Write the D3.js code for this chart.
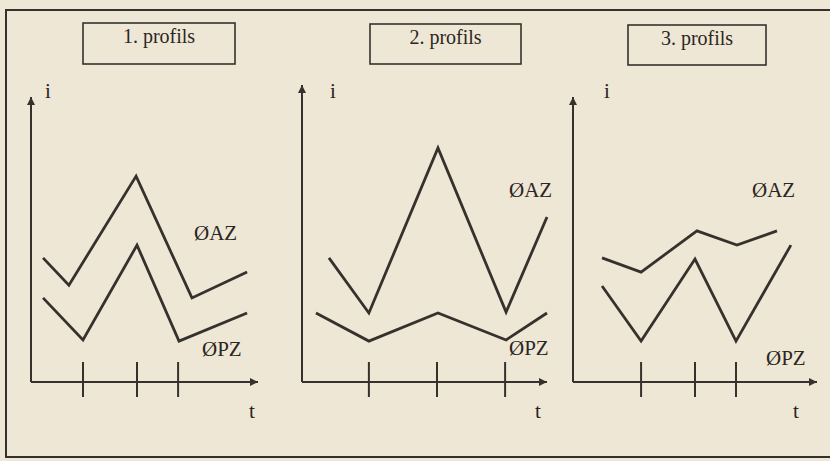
<!DOCTYPE html>
<html>
<head>
<meta charset="UTF-8">
<title>profils</title>
<script src="https://d3js.org/d3.v7.min.js"></script>
<style>
  * { margin: 0; padding: 0; box-sizing: border-box; }
  body { background: #efe7d5; }
  svg { display: block; }
  text { font-family: "Liberation Serif", "DejaVu Serif", serif; fill: #2a2623; }
</style>
</head>
<body>
<div id="chart"></div>
<script>
// time in % of the t axis, current in % of the i axis
const titles = ["1. profils", "2. profils", "3. profils"];
const seriesNames = ["ØAZ", "ØPZ"];

const azT = [[5.3, 16.7, 46.3, 70.9, 95.2], [11.0, 27.3, 55.5, 83.3, 100], [11.9, 27.9, 50.8, 67.2, 83.6]];
const azI = [[42.8, 33.4, 71.0, 29.0, 37.9], [42.8, 23.8, 80.7, 24.1, 56.9], [42.8, 37.9, 52.1, 47.2, 52.1]];
const pzT = [[5.3, 22.9, 46.7, 65.2, 95.2], [5.7, 27.3, 55.5, 83.3, 100], [11.9, 27.9, 50.0, 66.8, 89.3]];
const pzI = [[29.0, 14.5, 47.2, 14.1, 23.8], [23.8, 14.1, 23.8, 14.5, 23.8], [33.1, 14.1, 42.4, 14.1, 47.2]];
const tickT = [[22.9, 46.7, 64.8], [27.3, 55.1, 82.9], [27.9, 50.0, 66.8]];

const W = 830, H = 461, ink = "#36312d";

// layout per panel
const panels = [
  {x0: 31,  x1: 258, tip: 97, box: [83, 23, 152, 41],  az: [194, 240], pz: [202, 356], iX: 48,  tX: 252},
  {x0: 302, x1: 547, tip: 85, box: [370, 24, 151, 40], az: [509, 197], pz: [509, 355], iX: 333, tX: 538},
  {x0: 573, x1: 817, tip: 97, box: [628, 25, 138, 40], az: [752, 197], pz: [766, 365], iX: 607, tX: 796}
];

const y = d3.scaleLinear().domain([0, 100]).range([382, 92]);

const svg = d3.select("#chart").append("svg")
  .attr("width", W).attr("height", H);

svg.append("rect").attr("width", W).attr("height", H).attr("fill", "#efe7d5");

// frame
svg.append("path")
  .attr("d", `M${W},10 H6 V457 H${W}`)
  .attr("fill", "none").attr("stroke", ink).attr("stroke-width", 2);

svg.append("defs").append("marker")
  .attr("id", "arr").attr("viewBox", "0 0 10 10")
  .attr("refX", 10).attr("refY", 5)
  .attr("markerWidth", 13).attr("markerHeight", 8)
  .attr("markerUnits", "userSpaceOnUse")
  .attr("orient", "auto")
  .append("path").attr("d", "M0,0 L10,5 L0,10 Z").attr("fill", ink);

const line = d3.line();

panels.forEach((p, k) => {
  const x = d3.scaleLinear().domain([0, 100]).range([p.x0, p.x1]);
  const g = svg.append("g");

  // title box
  g.append("rect")
    .attr("x", p.box[0]).attr("y", p.box[1])
    .attr("width", p.box[2]).attr("height", p.box[3])
    .attr("fill", "none").attr("stroke", ink).attr("stroke-width", 1.6);
  g.append("text")
    .attr("x", p.box[0] + p.box[2] / 2).attr("y", p.box[1] + 20)
    .attr("text-anchor", "middle").style("font-size", "20px")
    .text(titles[k]);

  // axes
  g.append("line")
    .attr("x1", x(0)).attr("y1", y(0)).attr("x2", x(0)).attr("y2", p.tip)
    .attr("stroke", ink).attr("stroke-width", 2).attr("marker-end", "url(#arr)");
  g.append("line")
    .attr("x1", x(0)).attr("y1", y(0)).attr("x2", x(100)).attr("y2", y(0))
    .attr("stroke", ink).attr("stroke-width", 2).attr("marker-end", "url(#arr)");

  g.selectAll(".tick").data(tickT[k]).enter().append("line")
    .attr("x1", d => x(d)).attr("x2", d => x(d))
    .attr("y1", y(0) - 20).attr("y2", y(0) + 15)
    .attr("stroke", ink).attr("stroke-width", 2);

  g.append("text").attr("x", p.iX).attr("y", 98)
    .attr("text-anchor", "middle").style("font-size", "21px").text("i");
  g.append("text").attr("x", p.tX).attr("y", 418)
    .attr("text-anchor", "middle").style("font-size", "21px").text("t");

  // profiles
  const series = [
    {t: azT[k], i: azI[k], lab: p.az},
    {t: pzT[k], i: pzI[k], lab: p.pz}
  ];
  series.forEach((s, j) => {
    g.append("path")
      .attr("d", line(s.t.map((t, n) => [x(t), y(s.i[n])])))
      .attr("fill", "none").attr("stroke", ink)
      .attr("stroke-width", 2.8).attr("stroke-linejoin", "miter");
    g.append("text").attr("x", s.lab[0]).attr("y", s.lab[1])
      .style("font-size", "21px").text(seriesNames[j]);
  });
});
</script>
</body>
</html>
